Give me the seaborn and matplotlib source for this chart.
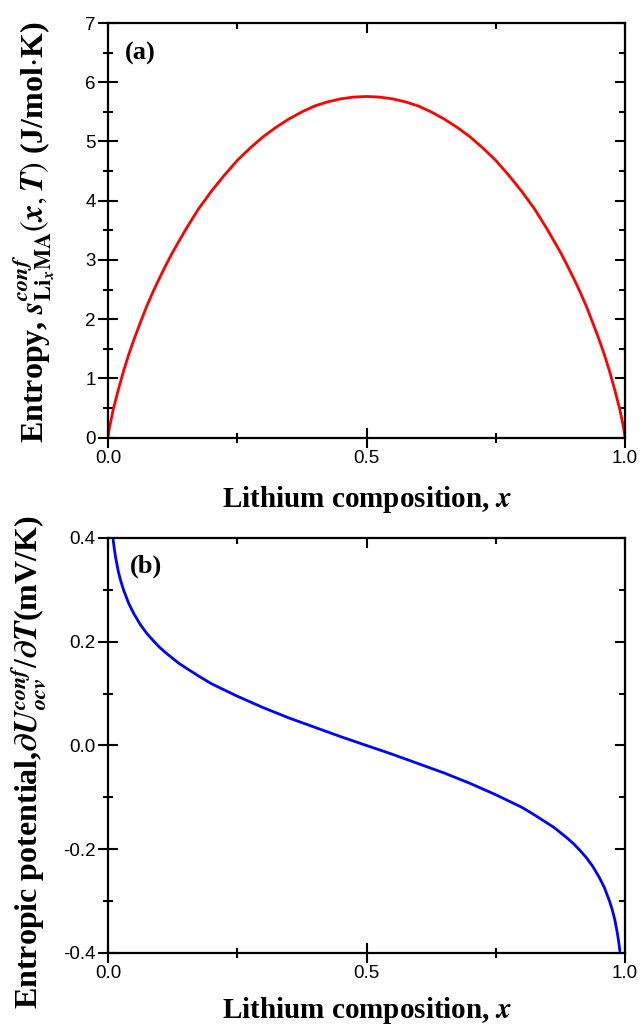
import matplotlib
matplotlib.use("Agg")
import matplotlib.pyplot as plt
import seaborn as sns
import pandas as pd
from matplotlib.ticker import MultipleLocator

# configurational entropy of Li_x MA, J/mol.K
x_a = [0.0, 0.0025, 0.005, 0.01, 0.02, 0.03, 0.04, 0.05, 0.0625, 0.075,
       0.0875, 0.1, 0.1125, 0.125, 0.15, 0.175, 0.2, 0.225, 0.25, 0.275,
       0.3, 0.325, 0.35, 0.375, 0.4, 0.425, 0.45, 0.475, 0.5,
       0.525, 0.55, 0.575, 0.6, 0.625, 0.65, 0.675, 0.7, 0.725, 0.75,
       0.775, 0.8, 0.825, 0.85, 0.875, 0.8875, 0.9, 0.9125, 0.925, 0.9375,
       0.95, 0.96, 0.97, 0.98, 0.99, 0.995, 0.9975, 1.0]
s_a = [0.0, 0.15, 0.26, 0.47, 0.81, 1.12, 1.40, 1.65, 1.94, 2.22,
       2.47, 2.70, 2.92, 3.13, 3.51, 3.86, 4.16, 4.43, 4.68, 4.89,
       5.08, 5.24, 5.38, 5.50, 5.60, 5.67, 5.72, 5.75, 5.76,
       5.75, 5.72, 5.67, 5.60, 5.50, 5.38, 5.24, 5.08, 4.89, 4.68,
       4.43, 4.16, 3.86, 3.51, 3.13, 2.92, 2.70, 2.47, 2.22, 1.94,
       1.65, 1.40, 1.12, 0.81, 0.47, 0.26, 0.15, 0.0]

# entropic potential, mV/K
x_b = [0.01, 0.0125, 0.015, 0.02, 0.025, 0.03, 0.04, 0.05, 0.0625, 0.075,
       0.0875, 0.1, 0.1125, 0.125, 0.1375, 0.15, 0.175, 0.2, 0.225, 0.25,
       0.275, 0.3, 0.325, 0.35, 0.4, 0.45, 0.5,
       0.55, 0.6, 0.65, 0.675, 0.7, 0.725, 0.75, 0.775, 0.8, 0.825,
       0.85, 0.8625, 0.875, 0.8875, 0.9, 0.9125, 0.925, 0.9375, 0.95, 0.96,
       0.97, 0.975, 0.98, 0.985, 0.9875, 0.99]
du_b = [0.396, 0.377, 0.361, 0.335, 0.316, 0.300, 0.274, 0.254, 0.233, 0.216,
        0.202, 0.189, 0.178, 0.168, 0.158, 0.150, 0.134, 0.119, 0.107, 0.095,
        0.084, 0.073, 0.063, 0.053, 0.035, 0.017, 0.0,
        -0.017, -0.035, -0.053, -0.063, -0.073, -0.084, -0.095, -0.107, -0.119, -0.134,
        -0.150, -0.158, -0.168, -0.178, -0.189, -0.202, -0.216, -0.233, -0.254, -0.274,
        -0.300, -0.316, -0.335, -0.361, -0.377, -0.396]

sns.set_style("ticks")
plt.rcParams["font.family"] = ["Liberation Serif", "DejaVu Serif"]
plt.rcParams["mathtext.fontset"] = "stix"
plt.rcParams["axes.unicode_minus"] = False
for key in ("text.color", "axes.labelcolor", "xtick.color", "ytick.color", "axes.edgecolor"):
    plt.rcParams[key] = "black"

serif = ["Liberation Serif", "DejaVu Serif"]
sans = ["Liberation Sans", "DejaVu Sans"]


def style_axes(ax, xmaj, xmin, ymaj, ymin):
    for sp in ax.spines.values():
        sp.set_linewidth(1.6)
    ax.xaxis.set_minor_locator(MultipleLocator(xmin))
    ax.yaxis.set_minor_locator(MultipleLocator(ymin))
    ax.tick_params(which="both", direction="inout", width=1.5, labelsize=13.5)
    ax.tick_params(which="major", length=14, pad=2)
    ax.tick_params(which="minor", length=6.5)
    for lab in ax.get_xticklabels() + ax.get_yticklabels():
        lab.set_family(sans)
    # inward ticks on top and right, no labels
    sx = ax.secondary_xaxis("top")
    sy = ax.secondary_yaxis("right")
    sx.xaxis.set_major_locator(MultipleLocator(xmaj))
    sx.xaxis.set_minor_locator(MultipleLocator(xmin))
    sy.yaxis.set_major_locator(MultipleLocator(ymaj))
    sy.yaxis.set_minor_locator(MultipleLocator(ymin))
    for sec in (sx, sy):
        sec.tick_params(which="both", direction="in", width=1.5)
        sec.tick_params(which="major", length=7)
        sec.tick_params(which="minor", length=4)
        sec.spines[:].set_visible(False)
    sx.set_xticklabels([])
    sy.set_yticklabels([])


fig = plt.figure(figsize=(6.41, 10.29), dpi=100)
ax1 = fig.add_axes([0.1685, 0.5748, 0.8066, 0.4028])
ax2 = fig.add_axes([0.1685, 0.0739, 0.8066, 0.4033])

# panel (a)
df_a = pd.DataFrame({"x": x_a, "s": s_a})
sns.lineplot(data=df_a, x="x", y="s", color="#ff0000", linewidth=2.0,
             estimator=None, sort=False, ax=ax1)
ax1.set_xlim(0, 1)
ax1.set_ylim(0, 7)
ax1.set_xticks([0, 0.5, 1.0], ["0.0", "0.5", "1.0"])
ax1.set_yticks(range(8), [str(v) for v in range(8)])
style_axes(ax1, 0.5, 0.25, 1, 0.5)
ax1.set_xlabel(r"Lithium composition, $\mathbfit{x}$", fontsize=21,
               fontweight="bold", family=serif, labelpad=12)
ax1.set_ylabel(r"Entropy, $\mathbfit{s}^{\mathbfit{conf}}_{\mathbf{Li}_{\mathbfit{x}}\mathbf{MA}}"
               r"(\mathbfit{x},\mathbfit{T})$ (J/mol$\cdot$K)",
               fontsize=23, fontweight="bold", family=serif)
ax1.yaxis.set_label_coords(-0.099, 0.495)
ax1.text(0.033, 0.955, "(a)", transform=ax1.transAxes, fontsize=19,
         fontweight="bold", family=serif, va="top", ha="left")

# panel (b)
df_b = pd.DataFrame({"x": x_b, "du": du_b})
sns.lineplot(data=df_b, x="x", y="du", color="#0000ff", linewidth=2.0,
             estimator=None, sort=False, ax=ax2)
ax2.set_xlim(0, 1)
ax2.set_ylim(-0.4, 0.4)
ax2.set_xticks([0, 0.5, 1.0], ["0.0", "0.5", "1.0"])
ax2.set_yticks([-0.4, -0.2, 0.0, 0.2, 0.4], ["-0.4", "-0.2", "0.0", "0.2", "0.4"])
style_axes(ax2, 0.5, 0.25, 0.2, 0.1)
ax2.set_xlabel(r"Lithium composition, $\mathbfit{x}$", fontsize=21,
               fontweight="bold", family=serif, labelpad=9)
ax2.set_ylabel(r"Entropic potential,$\mathbfit{\partial U}^{\mathbfit{conf}}_{\mathbfit{ocv}}"
               r"/\mathbfit{\partial T}$(mV/K)",
               fontsize=23, fontweight="bold", family=serif)
ax2.yaxis.set_label_coords(-0.117, 0.46)
ax2.text(0.043, 0.96, "(b)", transform=ax2.transAxes, fontsize=19,
         fontweight="bold", family=serif, va="top", ha="left")

fig.savefig("out.png", dpi=100)
